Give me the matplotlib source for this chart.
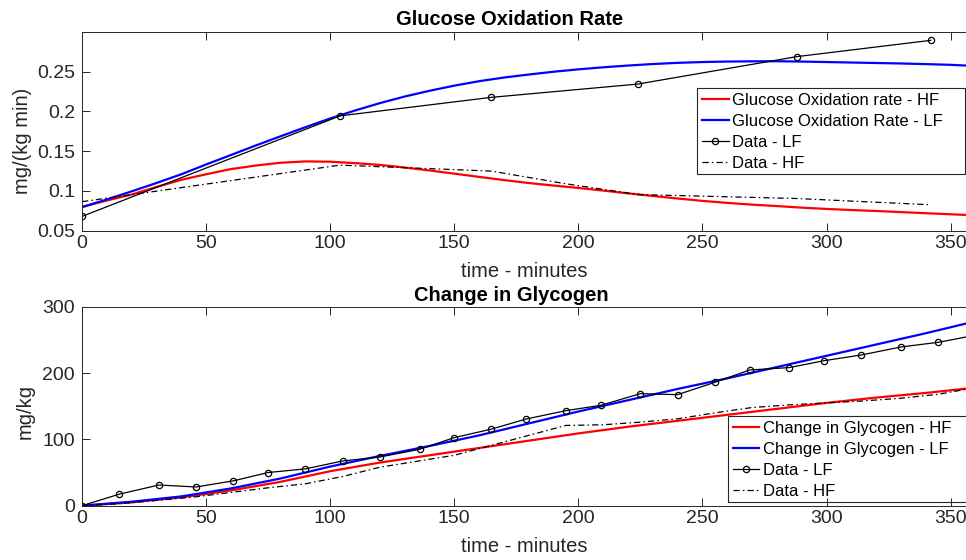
import numpy as np
import matplotlib.pyplot as plt
from matplotlib.patches import Rectangle

plt.rcParams['font.family'] = ['Liberation Sans', 'DejaVu Sans']

# model output for oxidation rate, every 10 minutes
t_ox_model = list(range(0, 361, 10))
gox_hf = [0.080, 0.088, 0.0955, 0.105, 0.114, 0.121, 0.1275, 0.132, 0.1355, 0.1372, 0.1368,
          0.135, 0.1328, 0.1295, 0.1258, 0.1218, 0.1177, 0.1137, 0.110, 0.1068, 0.1038, 0.1005,
          0.097, 0.0937, 0.0905, 0.0875, 0.085, 0.0828, 0.081, 0.079, 0.0774, 0.076, 0.0748,
          0.0734, 0.072, 0.0707, 0.0692]
gox_lf = [0.0796, 0.0893, 0.0995, 0.110, 0.121, 0.1333, 0.1452, 0.1572, 0.1688, 0.1802, 0.1912,
          0.2012, 0.2105, 0.2188, 0.226, 0.2325, 0.2381, 0.2427, 0.2465, 0.250, 0.253, 0.2556,
          0.2578, 0.2597, 0.2612, 0.2622, 0.2628, 0.2631, 0.2632, 0.2628, 0.2622, 0.2616, 0.261,
          0.2604, 0.2596, 0.2587, 0.2572]

# model output for glycogen, every 20 minutes
t_gly_model = [0, 20, 40, 60, 80, 100, 120, 140, 160, 180, 200, 220, 240, 260, 280, 300, 320, 340, 360]
gly_hf = [0, 5, 12.5, 23, 36, 52, 65, 76, 87, 98, 109, 119, 128, 137, 146, 155, 163, 170, 178]
gly_lf = [0, 6, 14, 26, 41, 59, 75, 90, 106, 124, 142, 159, 176, 192, 209, 226, 243, 260, 278]

# measured oxidation rate
t_ox = [0, 104, 165, 224, 288, 342]
ox_lf = [0.068, 0.1945, 0.2178, 0.2345, 0.269, 0.2895]
t_ox_hf = [0, 104, 165, 195, 224, 288, 342]
ox_hf = [0.0865, 0.1325, 0.125, 0.109, 0.0955, 0.0905, 0.0826]

# measured glycogen change
t_gly = [0, 15, 31, 46, 61, 75, 90, 105, 120, 136, 150, 165, 179, 195, 209, 225, 240, 255,
         269, 285, 299, 314, 330, 345, 360]
gly_data_lf = [0, 17.4, 31.2, 28.2, 37.5, 50, 55.5, 67.4, 73.4, 85, 102.6, 115.5, 130.7, 143.3,
               151.3, 168.9, 167.4, 186, 204.6, 208.2, 218.6, 227.2, 239.3, 246.3, 257]
t_gly_hf = [0, 15, 30, 45, 60, 75, 90, 105, 120, 135, 150, 165, 180, 195, 210, 225, 240, 255,
            270, 285, 300, 315, 330, 345, 360]
gly_data_hf = [0, 3, 8, 13, 20, 27, 33, 44, 58, 67, 76, 91, 106, 121, 122, 126, 131, 140,
               148, 152, 155, 158, 162, 168, 178]

W, H = 966, 560
fig = plt.figure(figsize=(W / 100, H / 100), dpi=100)
ax1 = fig.add_axes([82 / W, 1 - 230.7 / H, 1 - 82 / W, 198.7 / H])
ax2 = fig.add_axes([82 / W, 1 - 505.7 / H, 1 - 82 / W, 199 / H])

dashdot = (0, (5, 2.5, 1.2, 2.5))
gray = '#262626'

ax1.plot(t_ox_model, gox_hf, color='red', lw=1.6, label='Glucose Oxidation rate - HF')
ax1.plot(t_ox_model, gox_lf, color='blue', lw=1.6, label='Glucose Oxidation Rate - LF')
ax1.plot(t_ox, ox_lf, color='black', lw=0.9, marker='o', ms=4.5, mfc='none', mew=0.9,
         label='Data - LF')
ax1.plot(t_ox_hf, ox_hf, color='black', lw=0.9, ls=dashdot, label='Data - HF')
ax1.set_xlim(0, 356.2)
ax1.set_ylim(0.05, 0.30)
ax1.set_yticks([0.05, 0.1, 0.15, 0.2, 0.25])
ax1.set_yticklabels(['0.05', '0.1', '0.15', '0.2', '0.25'])
ax1.set_title('Glucose Oxidation Rate', fontsize=14.5, fontweight='bold', x=0.484, pad=5)
ax1.set_xlabel('time - minutes', fontsize=14.5, labelpad=7)
ax1.set_ylabel('mg/(kg min)', fontsize=14.5)
ax1.yaxis.set_label_coords(-0.0566, 0.454)

ax2.plot(t_gly_model, gly_hf, color='red', lw=1.6, label='Change in Glycogen - HF')
ax2.plot(t_gly_model, gly_lf, color='blue', lw=1.6, label='Change in Glycogen - LF')
ax2.plot(t_gly, gly_data_lf, color='black', lw=0.9, marker='o', ms=4.5, mfc='none', mew=0.9,
         label='Data - LF')
ax2.plot(t_gly_hf, gly_data_hf, color='black', lw=0.9, ls=dashdot, label='Data - HF')
ax2.set_xlim(0, 356.2)
ax2.set_ylim(0, 300)
ax2.set_yticks([0, 100, 200, 300])
ax2.set_title('Change in Glycogen', fontsize=14.5, fontweight='bold', x=0.486, pad=4)
ax2.set_xlabel('time - minutes', fontsize=14.5, labelpad=7)
ax2.set_ylabel('mg/kg', fontsize=14.5)
ax2.yaxis.set_label_coords(-0.053, 0.471)

for ax in (ax1, ax2):
    ax.set_xticks([0, 50, 100, 150, 200, 250, 300, 350])
    ax.tick_params(direction='in', top=True, length=6, width=0.7, colors=gray,
                   labelsize=14, pad=3)
    ax.tick_params(axis='y', pad=5)
    ax.spines['right'].set_visible(False)
    for s in ('left', 'bottom', 'top'):
        ax.spines[s].set_color(gray)
        ax.spines[s].set_linewidth(0.7)
    ax.xaxis.label.set_color(gray)
    ax.yaxis.label.set_color(gray)

# legends without their own frame; boxes drawn separately so they can run to the edge
leg_kw = dict(loc='upper left', bbox_transform=fig.transFigure, borderaxespad=0,
              fontsize=12, handlelength=1.6, handletextpad=0.22, labelspacing=0.36,
              borderpad=0.3, frameon=False)
ax1.legend(bbox_to_anchor=(697 / W, 1 - 88.3 / H), **leg_kw)
ax2.legend(bbox_to_anchor=(727.5 / W, 1 - 416 / H), **leg_kw)

for x0, y0, x1, y1 in [(697, 88.3, 965, 174.3), (727.5, 416, 970, 501.7)]:
    fig.patches.append(Rectangle((x0 / W, 1 - y1 / H), (x1 - x0) / W, (y1 - y0) / H,
                                 transform=fig.transFigure, facecolor='none',
                                 edgecolor=gray, lw=0.8, zorder=10))

fig.savefig('out.png', dpi=100)
